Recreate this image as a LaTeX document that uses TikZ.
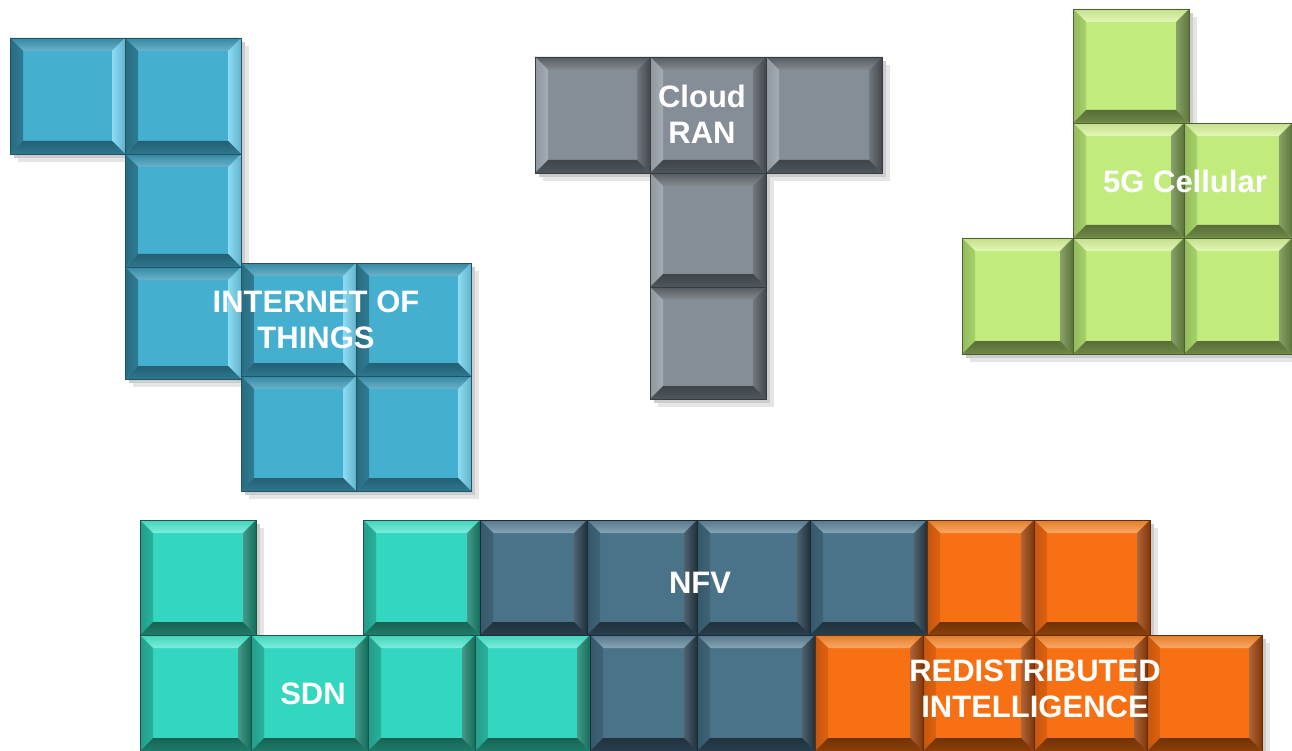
\documentclass[tikz,border=0pt]{standalone}
\usepackage{fontspec}
\setmainfont{Liberation Sans}
\definecolor{bluF}{HTML}{45AFCF}\definecolor{bluT}{HTML}{3A98B6}\definecolor{bluL}{HTML}{2E7B93}\definecolor{bluR}{HTML}{72D3F0}\definecolor{bluB}{HTML}{2D7890}
\definecolor{gryF}{HTML}{858E97}\definecolor{gryT}{HTML}{5E656C}\definecolor{gryL}{HTML}{A4ACB4}\definecolor{gryR}{HTML}{4D545A}\definecolor{gryB}{HTML}{4F565C}
\definecolor{grnF}{HTML}{C2EB7E}\definecolor{grnT}{HTML}{D9F69C}\definecolor{grnL}{HTML}{A6D36A}\definecolor{grnR}{HTML}{6C8A44}\definecolor{grnB}{HTML}{6E8947}
\definecolor{tlF}{HTML}{33D6BE}\definecolor{tlT}{HTML}{4DE9D0}\definecolor{tlL}{HTML}{28B29D}\definecolor{tlR}{HTML}{17806B}\definecolor{tlB}{HTML}{1E7C69}
\definecolor{nfF}{HTML}{4A7289}\definecolor{nfT}{HTML}{5F869B}\definecolor{nfL}{HTML}{3E6377}\definecolor{nfR}{HTML}{243A47}\definecolor{nfB}{HTML}{283F4D}
\definecolor{orF}{HTML}{F77114}\definecolor{orT}{HTML}{FA8B30}\definecolor{orL}{HTML}{DE620F}\definecolor{orR}{HTML}{983F07}\definecolor{orB}{HTML}{8C4009}
\newcommand\bv{13}
% tile: x1,y1,x2,y2,colour prefix
\newcommand\tile[5]{%
  \fill[#5F] (#1,#2) rectangle (#3,#4);
  \shade[top color=#5T!90!black, bottom color=#5T!75!white] (#1,#2) -- (#3,#2) -- (#3-\bv,#2+\bv) -- (#1+\bv,#2+\bv) -- cycle;
  \shade[left color=#5L!88!black, right color=#5L] (#1,#2) -- (#1+\bv,#2+\bv) -- (#1+\bv,#4-\bv) -- (#1,#4) -- cycle;
  \shade[left color=#5R!80!white, right color=#5R!85!black] (#3,#2) -- (#3-\bv,#2+\bv) -- (#3-\bv,#4-\bv) -- (#3,#4) -- cycle;
  \shade[top color=#5B!80!black, bottom color=#5B] (#1,#4) -- (#1+\bv,#4-\bv) -- (#3-\bv,#4-\bv) -- (#3,#4) -- cycle;
  \draw[#5B!70!black, line width=0.8pt] (#1,#2) rectangle (#3,#4);
}
\newcommand\shd[4]{%
  \fill[black!10] (#1+8,#2+8) rectangle (#3+8,#4+8);
  \fill[black!20] (#1+4,#2+4) rectangle (#3+4,#4+4);
}
\tikzset{lbl/.style={text=white, align=center, inner sep=0pt,
  font=\bfseries\fontsize{31}{36}\selectfont}}
\begin{document}
\begin{tikzpicture}[x=1pt,y=-1pt]
\useasboundingbox (0,0) rectangle (1292,751);
% shadows
\foreach \a/\b/\c/\d in {10/38/125/154,125/38/241/154,125/154/241/267,125/267/241/379,241/263/356/376,356/263/471/376,241/376/356/491,356/376/471/491,
 535/57/650/173,650/57/766/173,766/57/882/173,650/173/766/287,650/287/766/399,
 1073/9/1189/123,1073/123/1184/238,1184/123/1292/238,962/238/1073/354,1073/238/1184/354,1184/238/1292/354,
 140/520/256/635,363/520/480/635,480/520/587/635,587/520/697/635,697/520/810/635,810/520/927/635,927/520/1034/635,1034/520/1150/635,
 140/635/251/751,251/635/368/751,368/635/475/751,475/635/590/751,590/635/697/751,697/635/815/751,815/635/923/751,923/635/1034/751,1034/635/1147/751,1147/635/1262/751}
 {\shd{\a}{\b}{\c}{\d}}
% Internet of Things
\foreach \a/\b/\c/\d in {10/38/125/154,125/38/241/154,125/154/241/267,125/267/241/379,241/263/356/376,356/263/471/376,241/376/356/491,356/376/471/491}
 {\tile{\a}{\b}{\c}{\d}{blu}}
% Cloud RAN
\foreach \a/\b/\c/\d in {535/57/650/173,650/57/766/173,766/57/882/173,650/173/766/287,650/287/766/399}
 {\tile{\a}{\b}{\c}{\d}{gry}}
% 5G
\foreach \a/\b/\c/\d in {1073/9/1189/123,1073/123/1184/238,1184/123/1292/238,962/238/1073/354,1073/238/1184/354,1184/238/1292/354}
 {\tile{\a}{\b}{\c}{\d}{grn}}
% SDN
\foreach \a/\b/\c/\d in {140/520/256/635,363/520/480/635,140/635/251/751,251/635/368/751,368/635/475/751,475/635/590/751}
 {\tile{\a}{\b}{\c}{\d}{tl}}
% NFV
\foreach \a/\b/\c/\d in {480/520/587/635,587/520/697/635,697/520/810/635,810/520/927/635,590/635/697/751,697/635/815/751}
 {\tile{\a}{\b}{\c}{\d}{nf}}
% Redistributed intelligence
\foreach \a/\b/\c/\d in {927/520/1034/635,1034/520/1150/635,815/635/923/751,923/635/1034/751,1034/635/1147/751,1147/635/1262/751}
 {\tile{\a}{\b}{\c}{\d}{or}}
% labels
\node[lbl] (iot) at (316,320) {INTERNET OF\\THINGS};
\node[lbl] (cran) at (702,114) {Cloud\\RAN};
\node[lbl] (fiveg) at (1185,181) {5G Cellular};
\node[lbl] (nfv) at (700,583) {NFV};
\node[lbl] (sdn) at (313,694) {SDN};
\node[lbl] (ri) at (1035,689) {REDISTRIBUTED\\INTELLIGENCE};
\end{tikzpicture}
\end{document}
